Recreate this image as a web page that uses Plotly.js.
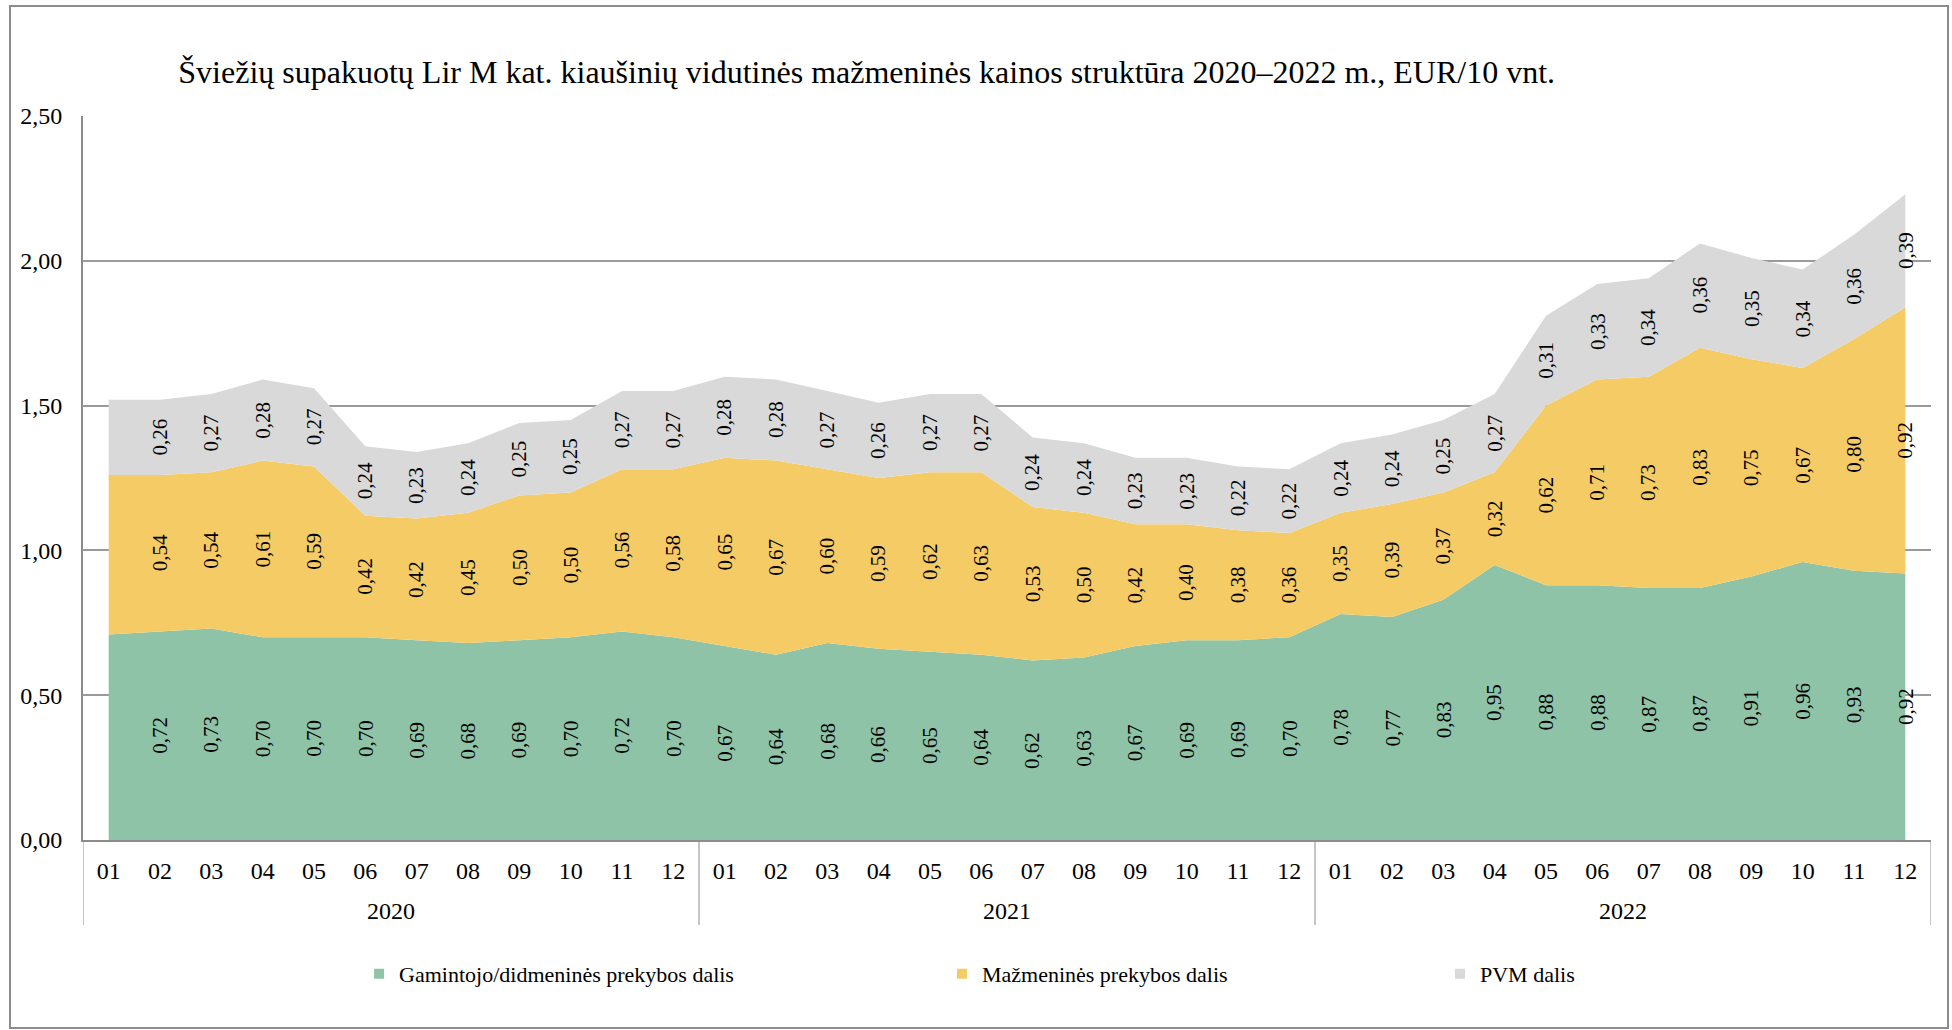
<!DOCTYPE html>
<html>
<head>
<meta charset="utf-8">
<script src="https://cdn.plot.ly/plotly-3.0.1.min.js"></script>
<style>
  html, body { margin: 0; padding: 0; background: #ffffff; }
  #chart { width: 1952px; height: 1030px; }
  #frame { position: absolute; left: 9px; top: 5px; width: 1936px; height: 1020px;
           border: 2px solid #8c8c8c; pointer-events: none; }
</style>
</head>
<body>
<div id="chart"></div>
<div id="frame"></div>
<script>
// ---- data (EUR / 10 eggs) ----
const years = ['2020', '2021', '2022'];
const months = ['01', '02', '03', '04', '05', '06', '07', '08', '09', '10', '11', '12'];

const seriesNames = [
  'Gamintojo/didmeninės prekybos dalis',
  'Mažmeninės prekybos dalis',
  'PVM dalis'
];

// Producer / wholesale share
const producerShare = [
  0.71, 0.72, 0.73, 0.70, 0.70, 0.70, 0.69, 0.68, 0.69, 0.70, 0.72, 0.70,
  0.67, 0.64, 0.68, 0.66, 0.65, 0.64, 0.62, 0.63, 0.67, 0.69, 0.69, 0.70,
  0.78, 0.77, 0.83, 0.95, 0.88, 0.88, 0.87, 0.87, 0.91, 0.96, 0.93, 0.92
];
// Retail share
const retailShare = [
  0.55, 0.54, 0.54, 0.61, 0.59, 0.42, 0.42, 0.45, 0.50, 0.50, 0.56, 0.58,
  0.65, 0.67, 0.60, 0.59, 0.62, 0.63, 0.53, 0.50, 0.42, 0.40, 0.38, 0.36,
  0.35, 0.39, 0.37, 0.32, 0.62, 0.71, 0.73, 0.83, 0.75, 0.67, 0.80, 0.92
];
// VAT share
const vatShare = [
  0.26, 0.26, 0.27, 0.28, 0.27, 0.24, 0.23, 0.24, 0.25, 0.25, 0.27, 0.27,
  0.28, 0.28, 0.27, 0.26, 0.27, 0.27, 0.24, 0.24, 0.23, 0.23, 0.22, 0.22,
  0.24, 0.24, 0.25, 0.27, 0.31, 0.33, 0.34, 0.36, 0.35, 0.34, 0.36, 0.39
];

const yTickVals = [0, 0.5, 1.0, 1.5, 2.0, 2.5];

// ---- build ----
const series = [producerShare, retailShare, vatShare];
const colors = ['#8EC3A7', '#F5CB66', '#D9D9D9'];
const FONT = 'Liberation Serif, Times New Roman, serif';
const GRAY = '#8c8c8c';

const nPts = producerShare.length;
const xIdx = [], xMonth = [];
years.forEach(y => months.forEach(m => { xIdx.push(xIdx.length); xMonth.push(m); }));

const traces = [];
series.forEach((vals, k) => {
  traces.push({
    type: 'scatter',
    x: xIdx,
    y: vals,
    stackgroup: 'one',
    mode: 'none',
    fillcolor: colors[k],
    name: seriesNames[k],
    showlegend: false,
    hoverinfo: 'skip'
  });
});
// legend keys (small squares, one legend per entry as in the original layout)
const legendIds = ['legend', 'legend2', 'legend3'];
series.forEach((vals, k) => {
  traces.push({
    type: 'scatter',
    x: [null], y: [null],
    xaxis: 'x2', yaxis: 'y2',
    mode: 'markers',
    marker: { symbol: 'square', size: 10, color: colors[k] },
    name: seriesNames[k],
    legend: legendIds[k],
    showlegend: true
  });
});

// data labels (rotated); the first month carries no labels in the original
const annotations = [];
for (let i = 1; i < nPts; i++) {
  let base = 0;
  series.forEach(vals => {
    const v = vals[i];
    annotations.push({
      x: xIdx[i], y: base + v / 2, xref: 'x', yref: 'y',
      text: v.toFixed(2).replace('.', ','),
      textangle: -90, showarrow: false,
      font: { family: FONT, size: 21, color: '#000000' }
    });
    base += v;
  });
}

// year group labels and group dividers under the month axis
const shapes = [];
const per = months.length;
years.forEach((y, g) => {
  annotations.push({
    x: g * per + (per - 1) / 2, xref: 'x',
    y: 0, yref: 'paper', yanchor: 'middle', yshift: -71,
    text: y, showarrow: false,
    font: { family: FONT, size: 24, color: '#000000' }
  });
});
for (let g = 0; g <= years.length; g++) {
  shapes.push({
    type: 'line', xref: 'x', yref: 'paper',
    x0: g * per - 0.5, x1: g * per - 0.5, y0: 0, y1: -85 / 724,
    line: { color: GRAY, width: 1 }
  });
}

function legendCfg(x) {
  return {
    x: x, y: -0.185, orientation: 'h', xanchor: 'left', yanchor: 'middle',
    bgcolor: 'rgba(0,0,0,0)', borderwidth: 0,
    font: { family: FONT, size: 22, color: '#000000' }
  };
}

const layout = {
  width: 1952, height: 1030,
  margin: { l: 83, r: 21, t: 116, b: 190 },
  paper_bgcolor: '#ffffff', plot_bgcolor: '#ffffff',
  separators: ', ',
  font: { family: FONT, color: '#000000' },
  title: {
    text: 'Šviežių supakuotų Lir M kat. kiaušinių vidutinės mažmeninės kainos struktūra 2020–2022 m., EUR/10 vnt.',
    font: { family: FONT, size: 32, color: '#000000' },
    xref: 'container', x: 0.444, xanchor: 'center',
    yref: 'container', y: 0.930, yanchor: 'middle'
  },
  xaxis: {
    type: 'linear',
    range: [-0.5, nPts - 0.5],
    tickvals: xIdx, ticktext: xMonth,
    showline: true, linecolor: GRAY, linewidth: 2,
    showgrid: false, zeroline: false,
    ticks: '', ticklabelstandoff: 8,
    tickfont: { family: FONT, size: 24, color: '#000000' }
  },
  yaxis: {
    range: [0, 2.5],
    tickvals: yTickVals,
    tickformat: '.2f',
    showline: true, linecolor: GRAY, linewidth: 2,
    showgrid: true, gridcolor: '#9a9a9a', gridwidth: 2,
    zeroline: false, ticks: '',
    ticklabelstandoff: 14,
    tickfont: { family: FONT, size: 24, color: '#000000' }
  },
  xaxis2: { visible: false, domain: [0, 0.01], anchor: 'y2' },
  yaxis2: { visible: false, domain: [0, 0.01], anchor: 'x2' },
  legend: legendCfg(0.1494),
  legend2: legendCfg(0.4648),
  legend3: legendCfg(0.7343),
  annotations: annotations,
  shapes: shapes,
  showlegend: true
};

Plotly.newPlot('chart', traces, layout, { displayModeBar: false, staticPlot: true });
</script>
</body>
</html>
